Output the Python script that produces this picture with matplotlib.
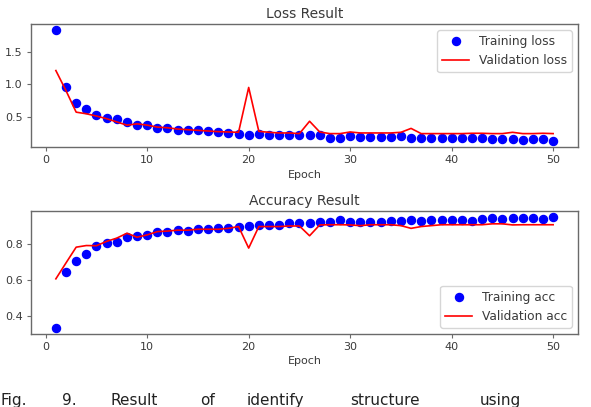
import matplotlib
matplotlib.use("Agg")
import matplotlib.pyplot as plt

epochs = list(range(1, 51))
train_loss = [1.84, 0.96, 0.71, 0.62, 0.53, 0.485, 0.46, 0.42, 0.37, 0.37,
              0.33, 0.33, 0.29, 0.30, 0.29, 0.275, 0.26, 0.25, 0.235, 0.225,
              0.235, 0.225, 0.225, 0.22, 0.225, 0.215, 0.215, 0.18, 0.18, 0.20,
              0.19, 0.19, 0.19, 0.19, 0.20, 0.165, 0.17, 0.17, 0.165, 0.17,
              0.165, 0.165, 0.165, 0.155, 0.155, 0.155, 0.14, 0.155, 0.155, 0.12]
val_loss = [1.21, 0.90, 0.57, 0.545, 0.51, 0.47, 0.42, 0.37, 0.39, 0.37,
            0.34, 0.33, 0.31, 0.30, 0.29, 0.28, 0.27, 0.265, 0.26, 0.95,
            0.275, 0.26, 0.25, 0.25, 0.24, 0.43, 0.265, 0.24, 0.24, 0.265,
            0.25, 0.25, 0.25, 0.25, 0.26, 0.32, 0.24, 0.24, 0.24, 0.24,
            0.24, 0.245, 0.245, 0.24, 0.24, 0.26, 0.24, 0.24, 0.245, 0.24]
train_acc = [0.332, 0.645, 0.707, 0.745, 0.789, 0.803, 0.812, 0.835, 0.844, 0.849,
             0.867, 0.863, 0.877, 0.873, 0.88, 0.88, 0.885, 0.889, 0.895, 0.899,
             0.904, 0.905, 0.905, 0.913, 0.912, 0.917, 0.918, 0.922, 0.93, 0.922,
             0.918, 0.922, 0.922, 0.926, 0.926, 0.93, 0.926, 0.93, 0.93, 0.93,
             0.93, 0.928, 0.935, 0.94, 0.935, 0.94, 0.94, 0.94, 0.935, 0.95]
val_acc = [0.606, 0.694, 0.781, 0.79, 0.789, 0.813, 0.831, 0.858, 0.836, 0.849,
           0.867, 0.87, 0.875, 0.875, 0.88, 0.88, 0.88, 0.885, 0.895, 0.776,
           0.895, 0.895, 0.895, 0.898, 0.898, 0.844, 0.904, 0.905, 0.905, 0.904,
           0.9, 0.905, 0.905, 0.905, 0.9, 0.885, 0.895, 0.9, 0.905, 0.905,
           0.905, 0.905, 0.905, 0.91, 0.91, 0.904, 0.905, 0.905, 0.905, 0.905]

caption_words = ["Fig.", "9.", "Result", "of", "identify", "structure", "using"]
caption_x = [0, 62, 110, 200, 247, 350, 480]

W, H = 591, 407
fig = plt.figure(figsize=(W / 100, H / 100), dpi=100)
txt = "#3a3a3a"
spine = "#6a6a6a"

def style(ax):
    for s in ax.spines.values():
        s.set_color(spine)
        s.set_linewidth(1.0)
    ax.tick_params(labelsize=8, colors=spine, labelcolor=txt, length=3, width=0.8, pad=3)

ax1 = fig.add_axes([31 / W, 1 - 147 / H, 547 / W, 123 / H])
ax1.plot(epochs, train_loss, "bo", markersize=5.8, label="Training loss")
ax1.plot(epochs, val_loss, "r", linewidth=1.2, label="Validation loss")
ax1.set_title("Loss Result", fontsize=10, color=txt, pad=4)
ax1.set_xlabel("Epoch", fontsize=8, color=txt, labelpad=3)
ax1.set_yticks([0.5, 1.0, 1.5])
ax1.legend(fontsize=8.8, loc="upper right", labelcolor=txt, handlelength=2.2)
style(ax1)

ax2 = fig.add_axes([31 / W, 1 - 334 / H, 547 / W, 123 / H])
ax2.plot(epochs, train_acc, "bo", markersize=5.8, label="Training acc")
ax2.plot(epochs, val_acc, "r", linewidth=1.2, label="Validation acc")
ax2.set_title("Accuracy Result", fontsize=10, color=txt, pad=4)
ax2.set_xlabel("Epoch", fontsize=8, color=txt, labelpad=3)
ax2.set_yticks([0.4, 0.6, 0.8])
ax2.legend(fontsize=8.8, loc="lower right", labelcolor=txt, handlelength=2.2)
style(ax2)

for w, x in zip(caption_words, caption_x):
    fig.text(x / W, 1 - 405 / H, w, fontsize=11, color="#222222", ha="left", va="baseline")

fig.savefig("out.png", dpi=100)
